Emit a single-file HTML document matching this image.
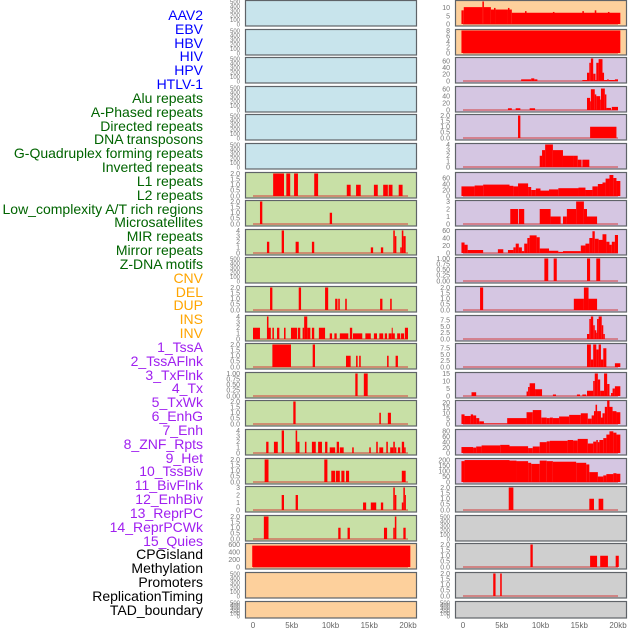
<!DOCTYPE html>
<html><head><meta charset="utf-8">
<style>
body{margin:0;background:#fff;width:630px;height:630px;overflow:hidden;font-family:"Liberation Sans",sans-serif}
#labels{position:absolute;left:0;top:0;width:203px}
.lb{position:absolute;right:0;font-size:14px;line-height:14px;white-space:nowrap}
svg{position:absolute;left:0;top:0}
</style></head><body>
<div id="labels"></div>
<svg id="chart" width="630" height="630"></svg>
<script>
const trackLabels = ["AAV2","EBV","HBV","HIV","HPV","HTLV-1","Alu repeats","A-Phased repeats","Directed repeats","DNA transposons","G-Quadruplex forming repeats","Inverted repeats","L1 repeats","L2 repeats","Low_complexity A/T rich regions","Microsatellites","MIR repeats","Mirror repeats","Z-DNA motifs","CNV","DEL","DUP","INS","INV","1_TssA","2_TssAFlnk","3_TxFlnk","4_Tx","5_TxWk","6_EnhG","7_Enh","8_ZNF_Rpts","9_Het","10_TssBiv","11_BivFlnk","12_EnhBiv","13_ReprPC","14_ReprPCWk","15_Quies","CPGisland","Methylation","Promoters","ReplicationTiming","TAD_boundary"];
const labelGroups = [6,13,5,15,5];
const groupColors = ["#0000ff","#006400","#ffa500","#a020f0","#000000"];

const T500=[0,100,200,300,400,500], T2=[0,0.5,1,1.5,2], T4=[0,1,2,3,4], T1=[0,0.25,0.5,0.75,1], T3=[0,1,2,3];
// left column: max, ticks, segments [startKb,endKb,value]
const leftMax = [500,500,500,500,500,500,2,2,4,500,2,4,2,1,2,4,2,3,2,600,500,500];
const leftTicks = [T500,T500,T500,T500,T500,T500,T2,T2,T4,T500,T2,T4,T2,T1,T2,T4,T2,T3,T2,[0,200,400,600],T500,T500];
const leftBg = ["#c8e4ec","#c8e4ec","#c8e4ec","#c8e4ec","#c8e4ec","#c8e4ec","#c8e0a6","#c8e0a6","#c8e0a6","#c8e0a6","#c8e0a6","#c8e0a6","#c8e0a6","#c8e0a6","#c8e0a6","#c8e0a6","#c8e0a6","#c8e0a6","#c8e0a6","#fdd09c","#fdd09c","#fdd09c"];
const leftSegs = [[],[],[],[],[],[],
[[2.6,4.0,2],[4.3,4.8,2],[5.3,5.8,2],[7.9,8.4,2],[12.1,12.6,1],[13.3,13.9,1],[15.6,16.1,1],[16.8,17.4,1],[17.5,18.0,1],[18.8,19.3,1]],
[[0.9,1.2,2],[9.9,10.2,1]],
[[1.8,2.1,2],[3.7,4.0,4],[5.5,5.9,2],[7.6,7.9,2],[15.2,15.5,1],[16.5,16.8,1],[18.1,18.3,4],[18.3,18.5,3],[19.0,19.2,1],[19.2,19.4,4],[19.4,19.7,3]],
[],
[[2.2,2.5,2],[5.9,6.2,2],[9.3,9.7,2],[10.6,10.9,1],[11.0,11.2,1],[11.9,12.1,1],[16.4,16.7,1],[17.7,17.9,1]],
[[0,0.9,2],[1.8,2.0,4],[2.0,2.3,2],[2.5,2.7,2],[3.1,3.4,2],[4.0,4.2,2],[4.9,5.7,2],[5.8,6.1,2],[6.4,6.6,2],[6.6,7.0,4],[7.0,7.4,2],[7.6,7.9,2],[8.5,9.3,2],[9.9,10.2,1],[10.5,10.8,1],[11.2,12.3,1],[12.5,12.8,2],[12.9,14.1,1],[14.5,15.2,1],[15.6,16.0,1],[16.3,16.8,1],[17.0,17.3,1],[17.5,17.9,1],[17.9,18.0,2],[18.0,18.3,1],[18.6,19.0,1],[19.1,19.5,1],[19.6,20.0,2]],
[[2.5,4.9,2],[7.7,8.0,2],[12.0,12.6,1],[13.3,13.5,1],[13.7,13.9,1],[17.3,17.5,1],[18.4,18.7,1]],
[[13.2,13.5,1],[14.3,14.8,1]],
[[5.2,5.5,2],[16.3,16.5,1],[17.4,17.8,1]],
[[1.7,2.0,2],[2.7,3.2,2],[3.7,4.0,4],[5.5,5.7,4],[5.7,6.0,2],[6.7,6.9,2],[7.6,8.1,2],[8.4,8.9,2],[9.3,9.6,2],[9.9,10.6,1],[10.8,11.1,2],[11.2,11.7,1],[12.8,13.0,1],[15.0,15.2,1],[15.9,16.1,2],[16.3,16.8,1],[17.2,17.4,2],[17.7,18.1,1],[18.1,18.3,2],[18.3,18.5,1],[18.7,19.0,1],[19.2,19.5,2],[19.5,19.7,1]],
[[1.5,2.0,2],[9.2,9.6,2],[10.1,10.6,1],[10.7,11.2,1],[11.4,11.8,1],[12.0,12.4,1],[19.2,19.7,1]],
[[3.7,4.0,2],[5.5,5.8,2],[14.2,14.6,1],[15.2,15.9,1],[16.5,16.8,1],[18.1,18.3,3],[18.3,18.5,2],[19.2,19.4,1],[19.4,19.6,3],[19.6,19.7,2]],
[[1.4,2.0,2],[11.0,11.3,1],[12.2,12.5,1],[16.9,17.3,1],[18.1,18.3,1],[18.3,18.5,2],[19.4,19.7,1]],
[[-0.1,20.3,570]],
[],[]];

const rightMax = [14,8,68,65,2,4,75,3,60,1,2,9,9,15,21,83,205,2,500,2,2,500];
const rightTicks = [[0,5,10],[0,2,4,6,8],[0,20,40,60],[0,20,40,60],T2,T4,[0,20,40,60],T3,[0,20,40,60],T1,T2,[0,2.5,5,7.5],[0,2.5,5,7.5],[0,5,10,15],[0,5,10,15,20],[0,20,40,60,80],[0,50,100,150,200],T2,T500,T2,T2,T500];
const rightBg = ["#fdd09c","#fdd09c","#d5c6e2","#d5c6e2","#d5c6e2","#d5c6e2","#d5c6e2","#d5c6e2","#d5c6e2","#d5c6e2","#d5c6e2","#d5c6e2","#d5c6e2","#d5c6e2","#d5c6e2","#d5c6e2","#d5c6e2","#cfcfcf","#cfcfcf","#cfcfcf","#cfcfcf","#cfcfcf"];
const rightSegs = [
[[-0.2,0.1,8.5],[0.1,2.5,10.5],[2.5,2.7,14],[2.7,3.6,10.5],[3.6,4.0,9],[4.0,4.2,10],[4.2,5.8,9],[5.8,6.0,10],[6.0,6.3,9],[6.3,20.3,7],[8.0,8.2,8],[11.6,11.8,7.5],[15.4,15.6,8],[17.0,17.2,8.5],[18.7,18.9,7.5]],
[[-0.2,20.3,8]],
[[7.5,8.8,5],[8.8,9.2,8],[9.2,9.6,5],[15.4,16.0,3],[16.0,16.3,25],[16.3,16.5,55],[16.5,16.8,68],[16.8,17.1,22],[17.1,17.2,3],[17.2,17.5,55],[17.5,18.0,66],[18.0,18.2,25],[18.2,18.6,3],[18.6,18.8,5],[18.8,19.6,3],[19.6,20.0,5]],
[[5.8,6.3,5],[6.8,7.4,5],[8.6,9.3,5],[16.0,16.4,35],[16.4,16.5,25],[16.5,17.0,60],[17.0,17.2,45],[17.2,17.7,40],[17.7,17.8,30],[17.8,18.3,62],[18.3,18.5,45],[18.5,19.1,6],[19.2,20.0,9]],
[[7.1,7.4,2],[16.4,19.8,1]],
[[9.9,10.2,2],[10.2,10.6,3],[10.6,11.6,4],[11.6,12.9,3],[12.9,14.2,2],[14.2,14.8,2],[14.8,15.3,1.3],[15.4,16.3,1.3]],
[[-0.2,1.5,32],[1.5,2.6,35],[2.6,6.0,38],[6.0,6.5,34],[6.5,7.1,32],[7.1,8.4,42],[8.4,8.8,30],[8.8,9.4,20],[9.4,10.0,25],[10.0,11.1,18],[11.1,12.3,22],[12.3,14.9,26],[14.9,15.8,28],[15.8,16.7,20],[16.7,17.4,32],[17.4,18.0,40],[18.0,18.4,45],[18.4,18.9,58],[18.9,19.4,70],[19.4,19.8,60],[19.8,20.3,50]],
[[6.1,7.1,2],[7.2,7.9,2],[9.9,11.3,2],[11.3,12.6,1],[12.9,13.4,1],[13.4,14.6,2],[14.6,15.6,3],[15.6,16.0,2],[16.0,17.3,1]],
[[-0.2,0.2,28],[0.2,0.6,22],[0.6,2.6,8],[4.5,5.2,10],[5.8,6.5,8],[6.5,6.8,15],[6.8,7.2,25],[7.2,7.6,15],[7.6,7.9,5],[7.9,8.3,25],[8.3,8.6,40],[8.6,9.5,47],[9.5,9.9,42],[9.9,11.1,12],[11.1,12.3,6],[12.3,12.9,3],[12.9,15.2,5],[15.2,15.8,20],[15.8,16.3,25],[16.3,16.7,40],[16.7,17.0,58],[17.0,17.5,38],[17.5,18.0,35],[18.0,18.5,50],[18.5,18.9,30],[18.9,19.2,22],[19.2,19.6,30],[19.6,20.0,48]],
[[10.5,11.0,1],[11.7,12.1,1],[16.0,16.4,1],[17.2,17.7,1]],
[[2.2,2.6,2],[14.3,15.6,1],[15.6,16.2,2],[16.2,17.3,1]],
[[16.0,16.3,2],[16.3,16.5,8],[16.5,16.8,9],[16.8,17.0,5.5],[17.0,17.2,3.5],[17.2,17.3,2.5],[17.3,17.5,8],[17.5,17.9,9],[17.9,18.1,5.5],[18.1,18.3,2]],
[[16.0,16.5,9],[16.5,16.8,3],[16.8,17.2,9],[17.2,17.5,7],[17.5,17.8,9],[17.8,18.1,3],[18.1,18.5,7.5],[19.6,20.3,1.5]],
[[1.1,1.7,2.5],[8.2,8.4,3],[8.4,8.6,6],[8.6,9.3,8.5],[9.3,10.2,4.5],[11.6,12.0,1],[14.7,15.1,1],[15.4,15.9,1],[16.0,16.8,3.5],[16.8,17.0,10],[17.0,17.4,15],[17.4,17.7,11],[17.7,18.2,3.5],[18.2,18.6,15],[18.6,18.9,8],[19.1,19.3,2],[19.3,19.6,5],[19.6,20.3,6.5]],
[[-0.2,0.2,9],[0.2,1.0,7.5],[1.0,1.3,9],[1.3,1.7,8],[1.7,2.1,5.5],[2.1,2.7,2.5],[2.7,5.7,0.5],[5.7,8.2,5.5],[8.2,9.0,11],[9.0,10.1,13],[10.1,10.8,6],[10.8,11.2,5.5],[11.2,11.6,6],[11.6,12.4,5.5],[12.4,13.7,7],[13.7,15.2,8.5],[15.2,16.1,10],[16.1,16.6,5],[16.6,16.9,8],[16.9,17.1,12],[17.1,17.3,18],[17.3,17.8,12],[17.8,18.0,6],[18.0,18.3,10],[18.3,18.6,16],[18.6,18.9,22],[18.9,19.3,16],[19.3,19.8,12],[19.8,20.3,11]],
[[-0.2,1.3,22],[1.3,1.7,20],[1.7,2.4,24],[2.4,4.8,28],[4.8,6.0,30],[6.0,8.4,25],[8.4,9.0,18],[9.0,9.9,24],[9.9,10.8,40],[10.8,11.2,43],[11.2,13.5,45],[13.5,14.2,48],[14.2,14.8,46],[14.8,16.1,52],[16.1,16.8,35],[16.8,17.2,42],[17.2,17.4,48],[17.4,17.6,40],[17.6,18.1,48],[18.1,18.5,55],[18.5,18.9,68],[18.9,19.4,80],[19.4,19.8,75],[19.8,20.3,68]],
[[-0.2,0.2,190],[0.2,6.0,200],[6.0,6.9,195],[6.9,8.4,190],[8.4,8.8,175],[8.8,9.9,165],[9.9,10.8,195],[10.8,11.6,190],[11.6,14.6,185],[14.6,15.9,175],[15.9,16.3,160],[16.3,17.4,90],[17.4,18.1,50],[18.1,18.5,60],[18.5,19.4,72],[19.4,19.8,80],[19.8,20.3,75]],
[[5.9,6.5,2],[16.3,16.9,1],[17.5,18.1,1]],
[],
[[8.7,9.0,2],[16.4,17.3,1],[17.7,18.7,1],[19.7,20.1,1]],
[[3.9,4.2,2],[4.8,5.0,2]],
[]];

const xTickKb = [0,5,10,15,20];
const xTickLabels = ["0","5kb","10kb","15kb","20kb"];

const NS="http://www.w3.org/2000/svg";
const svg=document.getElementById('chart');
const PXKB=7.75;
function rowTop(i){return Math.round(i*28.6);}
function rowH(i){return i<21?25.5:16.5;}
function mk(tag,attrs,parent){const e=document.createElementNS(NS,tag);for(const k in attrs)e.setAttribute(k,attrs[k]);(parent||svg).appendChild(e);return e;}
function fmt(t,ticks){const dec=ticks.some(v=>v%1!==0);if(!dec)return String(t);const d=ticks.some(v=>Math.round(v*100)%10!==0)?2:1;return t.toFixed(d);}

function drawCol(col,x0,segsArr,maxArr,ticksArr,bgArr){
  for(let i=0;i<22;i++){
    const top=rowTop(i),h=rowH(i);
    const g=mk('g',{});
    
    
    const bg=mk('rect',{x:x0+0.5,y:top+0.5,width:171,height:h,fill:bgArr[i],stroke:'#5f6368','stroke-width':1.2},g);
    
    
    const max=maxArr[i];
    const yv=v=>top+h-1.5-(v/max)*(h-3);
    const xk=k=>x0+8+k*PXKB;
    ticksArr[i].forEach(t=>{
      const tx=mk('text',{x:x0-5,y:yv(t)+2.3,'font-size':(ticksArr[i].length>5?6:7),fill:'#777','text-anchor':'end'},g);
      tx.textContent=fmt(t,ticksArr[i]);
      
      
    });
    const segs=segsArr[i];
    if(segs.length){
      const bl=mk('line',{x1:xk(0),x2:xk(20),y1:yv(0),y2:yv(0),stroke:'rgba(210,60,60,0.5)','stroke-width':2},g);
      
      
    }
    segs.forEach(s=>{
      const y=yv(s[2]);
      const r=mk('rect',{x:xk(s[0]),y:y,width:Math.max(1,(s[1]-s[0])*PXKB),height:yv(0)-y,fill:'#ff0000'},g);
      
      
    });
  }
  xTickKb.forEach((k,j)=>{
    const t=mk('text',{x:x0+8+k*PXKB,y:628,'font-size':8,fill:'#666','text-anchor':'middle'});
    t.textContent=xTickLabels[j];
    
    
  });
}
drawCol('left',245,leftSegs,leftMax,leftTicks,leftBg);
drawCol('right',455,rightSegs,rightMax,rightTicks,rightBg);

const lab=document.getElementById('labels');
let gi=0,cnt=0;
trackLabels.forEach((name,i)=>{
  while(cnt>=labelGroups[gi]){gi++;cnt=0;}
  cnt++;
  const d=document.createElement('div');
  d.className='lb';
  d.style.top=(8+i*13.83)+'px';
  d.style.color=groupColors[gi];
  d.textContent=name;
  
  
  lab.appendChild(d);
});
</script>
</body></html>
